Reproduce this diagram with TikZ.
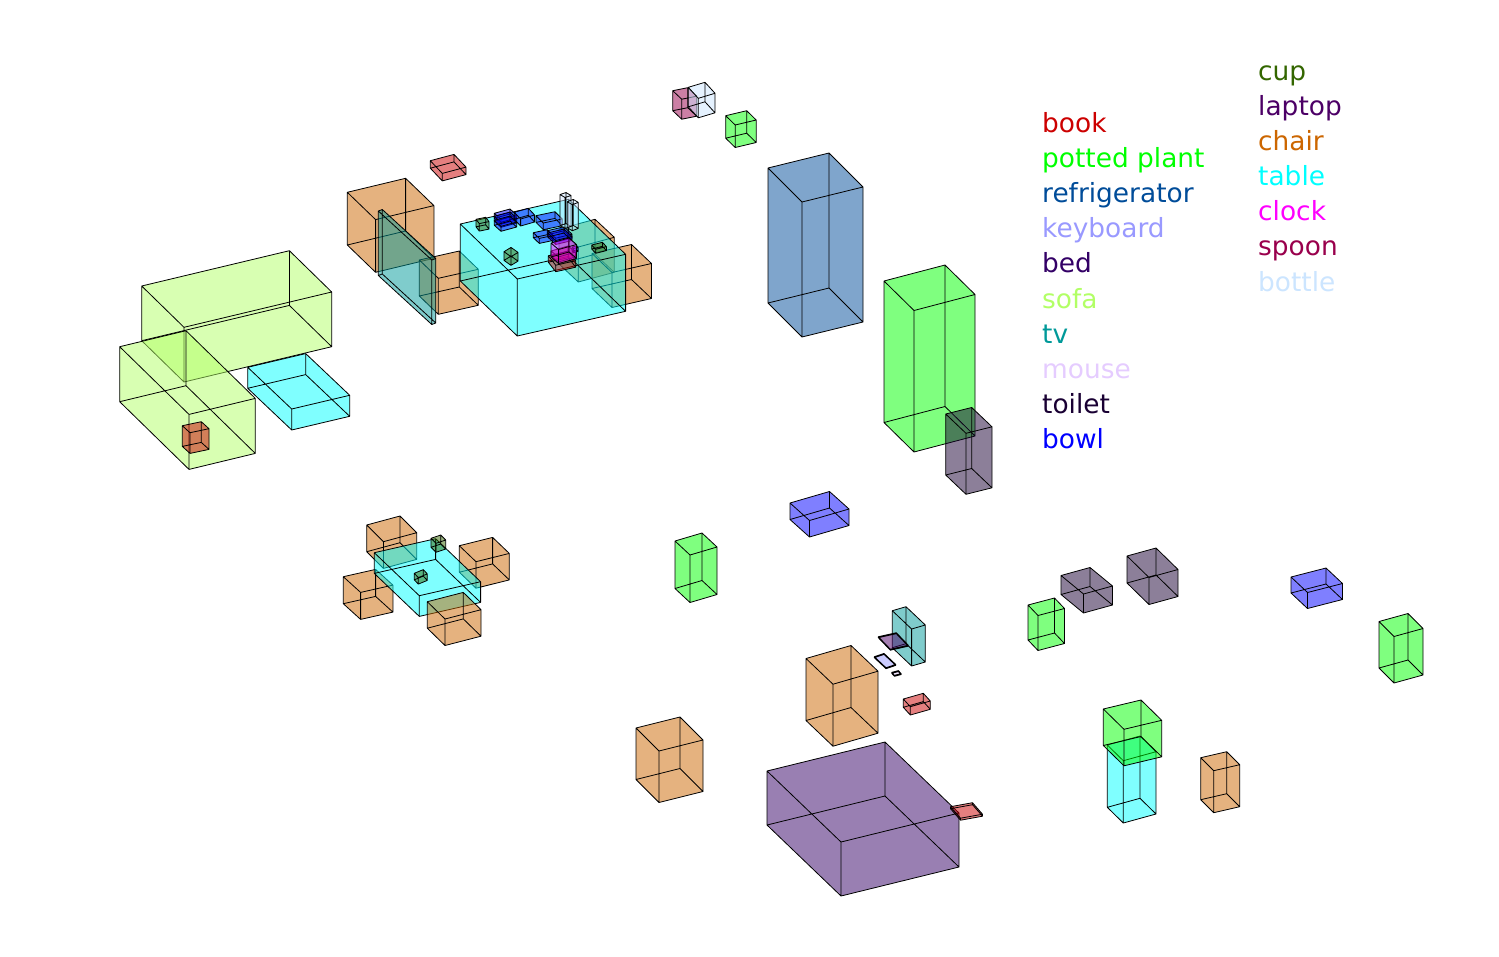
\documentclass[tikz,border=0pt]{standalone}
\usepackage{fontspec}
\setmainfont{DejaVu Sans}
\definecolor{cbook}{RGB}{204,0,0}
\definecolor{cplant}{RGB}{0,255,0}
\definecolor{cfridge}{RGB}{0,76,153}
\definecolor{ckeyboard}{RGB}{153,153,255}
\definecolor{cbed}{RGB}{51,0,102}
\definecolor{csofa}{RGB}{178,255,102}
\definecolor{ctv}{RGB}{0,153,153}
\definecolor{cmouse}{RGB}{229,204,255}
\definecolor{ctoilet}{RGB}{25,0,51}
\definecolor{cbowl}{RGB}{0,0,255}
\definecolor{ccup}{RGB}{51,102,0}
\definecolor{claptop}{RGB}{76,0,102}
\definecolor{cchair}{RGB}{204,102,0}
\definecolor{ctable}{RGB}{0,255,255}
\definecolor{cclock}{RGB}{255,0,255}
\definecolor{cspoon}{RGB}{153,0,76}
\definecolor{cbottle}{RGB}{204,229,255}
\tikzset{
  legend/.style={anchor=base west,inner sep=0pt,font=\fontsize{26.4}{26.4}\selectfont},
  boxface/.style={fill opacity=0.5,draw=none},
  boxedge/.style={draw=black,line width=0.8pt,line join=round}
}
% colour, Ax, Ay, ux, uy, vx, vy, h
\newcommand{\bx}[8]{%
  \coordinate (a) at ({#2},{#3});
  \coordinate (b) at ({#2+#4},{#3+#5});
  \coordinate (c) at ({#2+#4+#6},{#3+#5+#7});
  \coordinate (d) at ({#2+#6},{#3+#7});
  \coordinate (e) at ({#2},{#3+#8});
  \coordinate (f) at ({#2+#4},{#3+#5+#8});
  \coordinate (g) at ({#2+#4+#6},{#3+#5+#7+#8});
  \coordinate (h) at ({#2+#6},{#3+#7+#8});
  \fill[boxface,#1] (a)--(b)--(c)--(g)--(h)--(e)--cycle;
  \draw[boxedge] (a)--(b)--(c)--(d)--cycle (e)--(f)--(g)--(h)--cycle
    (a)--(e) (b)--(f) (c)--(g) (d)--(h);
}
\begin{document}
\begin{tikzpicture}[x=1pt,y=-1pt]
\useasboundingbox (0,0) rectangle (1499,956);
% living room
\bx{csofa}{141.7}{286}{147.7}{-35.3}{42.3}{41.3}{54.7}
\bx{csofa}{119.7}{346.7}{66.3}{-16}{69.3}{67.7}{55}
\bx{ctable}{247.7}{367.3}{58}{-13.7}{44}{41.7}{21}
\bx{cbook}{182.3}{425.7}{19}{-4}{7.7}{7}{20.7}
% big table group
\bx{cbook}{430.3}{160.7}{23.7}{-6.3}{12}{12.7}{7.5}
\bx{cchair}{347.3}{192.3}{58.3}{-14}{28.3}{27.3}{52.7}
\bx{cchair}{419.3}{260}{40}{-9}{19}{18.3}{36}
\bx{ctv}{378.3}{211}{4}{-1.5}{53.5}{49}{64.5}
\bx{cchair}{559}{229}{36}{-9.7}{19.3}{18}{35}
\bx{cchair}{592}{253.5}{39.5}{-9}{20}{19}{35}
\bx{ctable}{460.3}{224}{108.3}{-24.7}{57}{55}{57}
\bx{ccup}{476}{219.3}{9.7}{-2}{3.3}{4.3}{7.5}
\bx{ccup}{504}{251.7}{7}{-4.3}{7}{5}{8.7}
\bx{ccup}{591.7}{245}{10.7}{-2.7}{4}{4.3}{4}
\bx{cbowl}{494.3}{213.3}{15.7}{-4.3}{6.7}{6}{5}
\bx{cbowl}{494.3}{216.3}{15.7}{-4.3}{6.7}{6}{5}
\bx{cbowl}{494.3}{220.3}{15.7}{-4.3}{6.7}{6}{5}
\bx{cbowl}{514.3}{212.3}{14}{-4}{6.3}{6.7}{7}
\bx{cbowl}{536}{215.7}{19}{-4}{7.3}{7.3}{6.7}
\bx{cbowl}{533.3}{232.7}{14}{-3}{6}{5.7}{5}
\bx{cbowl}{547.7}{230.7}{16.3}{-4}{8}{7.5}{4}
\bx{cbowl}{547.7}{233}{16.3}{-4}{8}{7.5}{4}
\bx{cbottle}{560}{194.5}{6}{-2}{5}{3}{31}
\bx{cbottle}{567.3}{201.7}{6}{-2.3}{5}{3}{26}
\bx{cbook}{548.3}{255.7}{20}{-4.5}{7.4}{9.5}{6.5}
\bx{cspoon}{551}{251}{17}{-5}{7.5}{6}{5}
\bx{cbowl}{572}{247}{4.5}{-1}{1.5}{1.5}{4}
\bx{cclock}{551}{243}{18}{-5}{7.5}{6.5}{14}
% top objects
\bx{cspoon}{672.7}{90.7}{15}{-3}{9}{8.5}{20}
\bx{cbottle}{688.3}{87.3}{16.7}{-5}{10}{11}{19.5}
\bx{cplant}{725.7}{115.7}{21}{-5}{9.5}{9.3}{22.5}
\bx{cfridge}{768}{168}{61}{-15}{34}{34}{135}
\bx{cplant}{884}{281}{61}{-16}{30}{29.5}{141.5}
\bx{ctoilet}{945.7}{414}{26}{-6.5}{20.3}{19.3}{61}
% dining group
\bx{cchair}{366.7}{525}{33.3}{-9}{16.7}{16.7}{26.7}
\bx{cchair}{343.3}{576.7}{32.3}{-7.3}{17.3}{15.7}{27}
\bx{cchair}{459.3}{545.7}{33.3}{-8.3}{16.7}{16}{26.5}
\bx{ctable}{374.3}{552.7}{61.3}{-14}{45}{43}{20.7}
\bx{cchair}{427.3}{601.7}{36}{-9.3}{17.7}{17.3}{26.5}
\bx{ccup}{431}{538.3}{9.7}{-3.3}{5}{5}{9}
\bx{ccup}{414.3}{573.3}{9}{-3.7}{4}{4.3}{6.5}
% middle and right
\bx{cbowl}{790}{503}{39.5}{-11.5}{19.5}{17.5}{16.5}
\bx{cplant}{675}{541}{27}{-8}{15}{14}{47.5}
\bx{ctoilet}{1061}{575.5}{29}{-8}{22.5}{18.5}{19}
\bx{ctoilet}{1127}{556}{29}{-8}{22}{21.5}{27}
\bx{cbowl}{1291}{577}{35}{-9}{16.5}{15.5}{16}
\bx{cplant}{1028}{605}{26.5}{-7}{10}{10.5}{35}
\bx{cplant}{1379}{621.5}{29}{-8}{15}{15}{46.5}
\bx{ctable}{1107.3}{745}{32.7}{-9}{16}{15.7}{62.3}
\bx{cplant}{1103.3}{709}{37.7}{-9}{20.7}{20.3}{36.5}
\bx{cchair}{1200.7}{757.7}{26}{-6}{13}{13}{42}
% bedroom
\bx{cchair}{806}{658.5}{45}{-13}{27}{25.7}{62}
\bx{cchair}{636}{728}{44}{-11}{23}{23}{51.5}
\bx{cbed}{767}{771}{118}{-29}{74}{71}{54}
\bx{cbook}{950.5}{806.7}{22}{-4}{10}{11.5}{2}
\bx{ctv}{892.3}{610.7}{13.7}{-4}{19.3}{18.3}{37}
\bx{claptop}{878.3}{636.7}{18}{-4}{12}{12.5}{1}
\bx{ckeyboard}{874.3}{656.7}{9.7}{-3.3}{11.7}{11}{1}
\bx{cmouse}{891.7}{672.3}{6.7}{-1.7}{2.7}{3}{1}
\bx{cbook}{903.3}{699}{20}{-5.7}{7}{7.7}{8.3}
% legend
\node[legend,text=cbook] (l1) at (1042,132) {book};
\node[legend,text=cplant] (l2) at (1042,167) {potted plant};
\node[legend,text=cfridge] (l3) at (1042,202) {refrigerator};
\node[legend,text=ckeyboard] (l4) at (1042,237.3) {keyboard};
\node[legend,text=cbed] (l5) at (1042,272.4) {bed};
\node[legend,text=csofa] (l6) at (1042,308.3) {sofa};
\node[legend,text=ctv] (l7) at (1042,343.4) {tv};
\node[legend,text=cmouse] (l8) at (1042,378.5) {mouse};
\node[legend,text=ctoilet] (l9) at (1042,413) {toilet};
\node[legend,text=cbowl] (l10) at (1042,448) {bowl};
\node[legend,text=ccup] (r1) at (1258,80) {cup};
\node[legend,text=claptop] (r2) at (1258,115) {laptop};
\node[legend,text=cchair] (r3) at (1258,150) {chair};
\node[legend,text=ctable] (r4) at (1258,185.3) {table};
\node[legend,text=cclock] (r5) at (1258,220.4) {clock};
\node[legend,text=cspoon] (r6) at (1258,255.5) {spoon};
\node[legend,text=cbottle] (r7) at (1258,291.4) {bottle};
\end{tikzpicture}
\end{document}
